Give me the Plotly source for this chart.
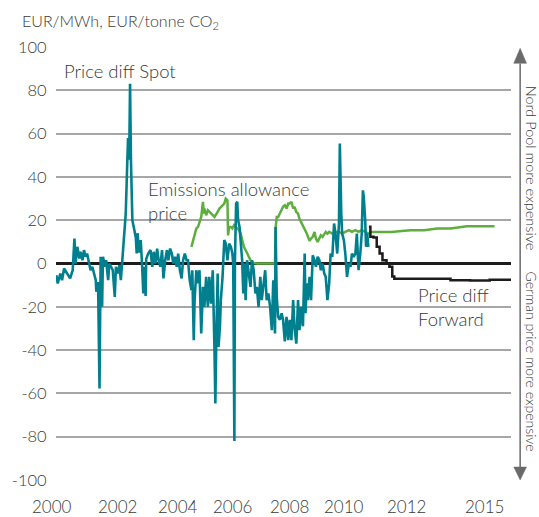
import plotly.graph_objects as go

# ---------------- data ----------------
spot_year = [2000.30, 2000.35, 2000.44, 2000.50, 2000.57, 2000.64, 2000.72, 2000.78, 2000.87, 2000.93,
             2000.97, 2001.03, 2001.10, 2001.14, 2001.21, 2001.26, 2001.32, 2001.37, 2001.44, 2001.49,
             2001.55, 2001.60, 2001.67, 2001.69, 2001.75, 2001.80, 2001.84, 2001.89, 2001.92, 2001.99,
             2002.03, 2002.10, 2002.14, 2002.20, 2002.26, 2002.33, 2002.37, 2002.44, 2002.49, 2002.54,
             2002.60, 2002.66, 2002.71, 2002.76, 2002.79, 2002.83, 2002.86, 2002.89, 2002.94, 2003.00,
             2003.06, 2003.09, 2003.12, 2003.17, 2003.23, 2003.28, 2003.32, 2003.35, 2003.40, 2003.42,
             2003.49, 2003.57, 2003.63, 2003.68, 2003.74, 2003.80, 2003.85, 2003.91, 2003.97, 2004.02,
             2004.08, 2004.14, 2004.19, 2004.25, 2004.31, 2004.36, 2004.42, 2004.48, 2004.53, 2004.59,
             2004.65, 2004.70, 2004.76, 2004.82, 2004.87, 2004.93, 2004.99, 2005.02, 2005.07, 2005.10,
             2005.16, 2005.22, 2005.27, 2005.33, 2005.39, 2005.44, 2005.50, 2005.56, 2005.61, 2005.67,
             2005.73, 2005.79, 2005.82, 2005.86, 2005.90, 2005.93, 2005.98, 2006.01, 2006.07, 2006.13,
             2006.18, 2006.24, 2006.30, 2006.36, 2006.41, 2006.44, 2006.48, 2006.50, 2006.54, 2006.58,
             2006.61, 2006.66, 2006.70, 2006.75, 2006.79, 2006.83, 2006.87, 2006.92, 2006.98, 2007.04,
             2007.09, 2007.15, 2007.21, 2007.26, 2007.32, 2007.38, 2007.43, 2007.49, 2007.55, 2007.60,
             2007.66, 2007.72, 2007.78, 2007.83, 2007.89, 2007.91, 2007.95, 2008.00, 2008.06, 2008.12,
             2008.17, 2008.23, 2008.29, 2008.35, 2008.40, 2008.46, 2008.52, 2008.57, 2008.63, 2008.69,
             2008.74, 2008.80, 2008.86, 2008.92, 2008.95, 2008.99, 2009.03, 2009.09, 2009.14, 2009.20,
             2009.26, 2009.31, 2009.37, 2009.43, 2009.48, 2009.54, 2009.60, 2009.65, 2009.71, 2009.77,
             2009.82, 2009.88, 2009.94, 2009.99, 2010.05, 2010.11, 2010.14, 2010.19, 2010.22, 2010.28,
             2010.33, 2010.39, 2010.45, 2010.51, 2010.56, 2010.62, 2010.68, 2010.73, 2010.79, 2010.85,
             2010.90, 2010.94, 2010.97, 2011.02, 2011.05, 2011.09, 2011.13]
spot_value = [-5.4, -9.2, -4.6, -7.7, -2.3, -3.8, -5.4, -6.9, -3.1, 11.5,
              0.0, 7.7, 2.3, 5.4, 1.5, 6.2, 3.1, 4.6, 0.0, -3.1,
              -1.5, -3.8, -7.7, -13.0, -8.5, -57.7, 3.1, -20.0, 3.1, -1.5,
              1.5, -7.7, 0.0, -1.5, -3.1, -15.4, -1.5, -4.6, -0.8, -7.7,
              3.0, 14.0, 23.0, 45.0, 58.0, 48.0, 83.0, 48.0, 20.0, 16.0,
              12.0, 4.6, 14.0, 5.0, 10.8, -1.5, -13.8, -1.5, -15.0, 2.0,
              4.6, 6.2, -1.5, 5.4, 0.0, 6.9, 1.5, -1.5, 6.2, -6.9,
              1.5, 6.2, 1.5, 6.9, 4.6, 0.0, 3.1, -1.5, 4.6, -3.1,
              -6.9, 1.5, 4.6, 1.5, 1.5, -7.7, -12.3, -3.1, -35.4, -16.9,
              -3.1, -9.2, -3.1, -32.3, -10.8, -20.0, -6.2, -20.0, -6.2, -18.5,
              -3.1, -40.0, -64.6, -29.0, -4.6, -38.5, -29.0, -16.9, -6.2, 10.8,
              9.2, 1.5, 9.2, 7.7, 4.6, 0.0, -82.0, 1.5, 27.7, 28.5,
              20.0, 16.9, 7.7, 1.5, -13.8, 0.0, -16.9, 1.5, -4.6, -10.8,
              1.5, -3.1, -13.8, -10.8, -20.0, -6.2, -16.9, -10.8, -3.1, -16.9,
              -13.8, -20.0, -30.8, -7.7, -32.3, 16.9, -15.4, -24.6, -26.0, -23.0,
              -26.0, -36.0, -24.6, -35.4, -26.0, -35.4, -16.9, -30.0, -37.0, -16.9,
              -30.8, -20.0, -29.0, 4.6, -23.0, -9.2, -16.9, -6.2, -16.9, 3.8,
              1.5, -1.5, 3.1, 1.5, -3.1, 0.0, -4.6, -6.2, -16.9, -9.2,
              4.6, 3.1, 18.5, 13.8, 4.6, 18.5, 55.4, 23.0, 13.8, 10.8,
              4.6, -6.2, 0.0, -1.5, 4.6, 3.1, 4.6, 13.8, -3.1, 4.6,
              13.8, 33.8, 30.8, 20.0, 7.7, 13.8, 7.7]

co2_year = [2004.99, 2005.04, 2005.10, 2005.16, 2005.22, 2005.27, 2005.33, 2005.39, 2005.42, 2005.44,
            2005.50, 2005.56, 2005.61, 2005.67, 2005.73, 2005.79, 2005.84, 2005.90, 2005.96, 2006.01,
            2006.07, 2006.13, 2006.18, 2006.24, 2006.26, 2006.30, 2006.36, 2006.41, 2006.47, 2006.53,
            2006.58, 2006.64, 2006.70, 2006.75, 2006.81, 2006.87, 2006.92, 2006.98, 2007.04, 2007.09,
            2007.15, 2007.26, 2007.49, 2007.83, 2007.89, 2007.91, 2007.95, 2008.00, 2008.06, 2008.12,
            2008.17, 2008.23, 2008.29, 2008.35, 2008.40, 2008.46, 2008.52, 2008.57, 2008.63, 2008.69,
            2008.74, 2008.80, 2008.86, 2008.92, 2008.97, 2009.03, 2009.09, 2009.14, 2009.20, 2009.26,
            2009.31, 2009.37, 2009.43, 2009.48, 2009.54, 2009.60, 2009.65, 2009.71, 2009.77, 2009.88,
            2009.99, 2010.11, 2010.22, 2010.33, 2010.45, 2010.56, 2010.68, 2010.79, 2010.90, 2011.02,
            2011.13, 2011.25, 2011.47, 2011.93, 2012.38, 2012.61, 2013.07, 2013.29, 2013.52, 2013.98,
            2014.32, 2014.55, 2015.11, 2015.51]
co2_value = [7.7, 10.0, 13.8, 16.2, 16.9, 19.2, 21.5, 28.5, 23.0, 25.4,
             22.3, 24.6, 23.8, 23.0, 22.3, 21.5, 22.3, 23.8, 25.4, 26.2,
             26.9, 27.7, 30.0, 29.2, 13.0, 16.9, 16.9, 16.2, 17.7, 16.9,
             16.2, 15.4, 13.8, 10.8, 7.7, 6.2, 4.6, 3.1, 1.5, 0.8,
             0.3, 0.0, 0.0, 0.0, 0.0, 16.2, 21.5, 21.5, 23.0, 24.6,
             26.2, 26.9, 25.4, 27.7, 27.7, 28.5, 25.4, 26.2, 23.8, 23.0,
             20.5, 19.0, 17.0, 15.8, 14.5, 12.5, 10.5, 11.5, 12.3, 14.6,
             11.5, 10.0, 11.5, 13.0, 12.3, 13.8, 14.6, 13.8, 14.6, 13.8,
             14.6, 14.6, 13.8, 14.6, 15.4, 14.6, 15.4, 14.6, 15.4, 14.6,
             13.8, 14.6, 14.6, 14.6, 15.1, 15.4, 15.4, 15.7, 16.2, 16.2,
             16.6, 17.2, 17.2, 17.2]

fwd_year = [2011.15, 2011.20, 2011.31, 2011.42, 2011.52, 2011.62, 2011.76, 2011.86, 2011.96, 2012.03,
            2013.98, 2014.66, 2015.34, 2016.08]
fwd_value = [17.0, 12.3, 12.0, 7.7, 4.6, 1.5, 0.0, -1.5, -6.0, -7.0,
             -7.7, -7.9, -7.5, -7.3]

year_label_pos = [2000.15, 2002.43, 2004.52, 2006.43, 2008.41, 2010.29, 2012.44, 2015.17]
year_labels = ["2000", "2002", "2004", "2006", "2008", "2010", "2012", "2015"]

y_ticks = [-100, -80, -60, -40, -20, 0, 20, 40, 60, 80, 100]

# ---------------- styling ----------------
FONT = "Lato"
TXT = "#3a3a3a"
TEAL = "#00808F"
GREEN = "#5DAE3F"
BLACK = "#1c1c1c"
GRID = "#a6a6a6"
ARROW = "#6a6a6a"

X0, X1 = 2000.29, 2016.08

fig = go.Figure()
fig.add_trace(go.Scatter(x=co2_year, y=co2_value, mode="lines",
                         line=dict(color=GREEN, width=2.5), hoverinfo="skip"))
fig.add_trace(go.Scatter(x=spot_year, y=spot_value, mode="lines",
                         line=dict(color=TEAL, width=2.6), hoverinfo="skip"))
fig.add_trace(go.Scatter(x=fwd_year, y=fwd_value, mode="lines", line_shape="hv",
                         line=dict(color=BLACK, width=2.5), hoverinfo="skip"))

ann = []
# x labels (paper coordinates derived from the year axis)
for yr, t in zip(year_label_pos, year_labels):
    ann.append(dict(x=(yr - X0) / (X1 - X0), y=-0.062, xref="paper", yref="paper",
                    text=t, showarrow=False, xanchor="center", yanchor="middle",
                    font=dict(family=FONT, size=17, color=TXT, weight=300)))

ann += [
    dict(x=-0.079, y=1.058, xref="paper", yref="paper", xanchor="left", yanchor="middle",
         text="EUR/MWh, EUR/tonne CO<sub>2</sub>", showarrow=False,
         font=dict(family=FONT, size=16, color=TXT, weight=300)),
    dict(x=2000.63, y=88.7, xref="x", yref="y", xanchor="left", yanchor="middle", xshift=-4,
         text="Price diff Spot", showarrow=False,
         font=dict(family=FONT, size=18.5, color=TXT, weight=300)),
    dict(x=2003.60, y=28.7, xref="x", yref="y", xanchor="left", yanchor="middle", align="left",
         xshift=-5, text="Emissions allowance<br>price", showarrow=False,
         font=dict(family=FONT, size=18.5, color=TXT, weight=300)),
    dict(x=2012.88, y=-20.2, xref="x", yref="y", xanchor="left", yanchor="middle", align="left",
         xshift=-3, text="Price diff<br>Forward", showarrow=False,
         font=dict(family=FONT, size=18.5, color=TXT, weight=300)),
    dict(x=1.045, y=(480 - 168) / 433.3, xref="paper", yref="paper", textangle=90,
         xanchor="center", yanchor="middle",
         text="Nord Pool more expensive", showarrow=False,
         font=dict(family=FONT, size=14.5, color=TXT, weight=300)),
    dict(x=1.045, y=(480 - 362) / 433.3, xref="paper", yref="paper", textangle=90,
         xanchor="center", yanchor="middle",
         text="German price more expensive", showarrow=False,
         font=dict(family=FONT, size=14, color=TXT, weight=300)),
]

shapes = [
    dict(type="line", xref="paper", yref="paper", x0=1.0201, x1=1.0201, y0=0.030, y1=0.962,
         line=dict(color=ARROW, width=1.5)),
    dict(type="path", xref="paper", yref="paper",
         path="M 1.0061,0.9623 L 1.0201,0.997 L 1.0341,0.9623 Z",
         fillcolor=ARROW, line=dict(color=ARROW, width=0.5)),
    dict(type="path", xref="paper", yref="paper",
         path="M 1.0061,0.0300 L 1.0201,0.0000 L 1.0341,0.0300 Z",
         fillcolor=ARROW, line=dict(color=ARROW, width=0.5)),
]

fig.update_layout(
    width=539, height=517,
    margin=dict(l=49, r=28, t=47, b=37),
    paper_bgcolor="white", plot_bgcolor="white",
    showlegend=False,
    annotations=ann, shapes=shapes,
    xaxis=dict(range=[X0, X1], showgrid=False, zeroline=False, showline=False,
               showticklabels=False, ticks=""),
    yaxis=dict(range=[-100, 100], tickvals=y_ticks, ticktext=[str(v) for v in y_ticks],
               showgrid=True, gridcolor=GRID, gridwidth=1.5,
               zeroline=True, zerolinecolor=BLACK, zerolinewidth=2.5,
               showline=False, ticks="outside", ticklen=0, ticklabelstandoff=5,
               tickfont=dict(family=FONT, size=16.5, color=TXT, weight=300)),
)

fig.write_html("out.html", config={"displayModeBar": False},
               post_script="document.body.style.margin='0';document.body.style.overflow='hidden';")
